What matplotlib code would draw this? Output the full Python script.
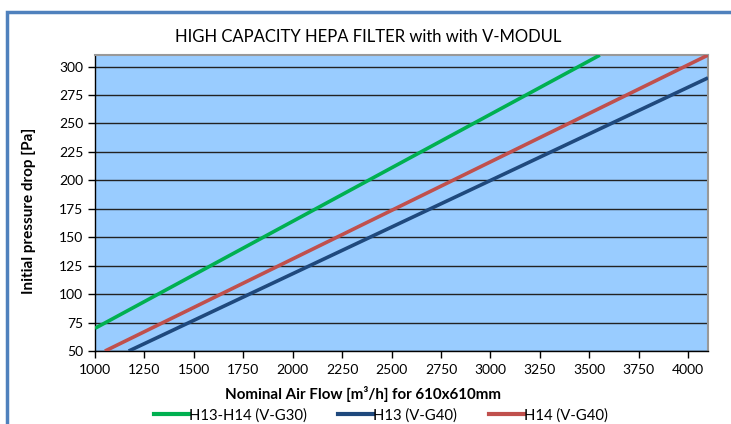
import matplotlib
matplotlib.use("Agg")
import matplotlib.pyplot as plt
from matplotlib.patches import Rectangle
from matplotlib.lines import Line2D

plt.rcParams['font.family'] = ['Lato', 'DejaVu Sans']

# Data
flow_g30 = [1000, 3553]
dp_g30 = [70, 310]
flow_h13 = [1170, 4100]
dp_h13 = [50, 290]
flow_h14 = [1050, 4100]
dp_h14 = [50, 310]
series_names = ["H13-H14 (V-G30)", "H13 (V-G40)", "H14 (V-G40)"]
colors = ["#00B050", "#1F497D", "#C0504D"]
xticks = list(range(1000, 4001, 250))
yticks = list(range(50, 301, 25))

fig = plt.figure(figsize=(7.31, 4.24), dpi=100)
ax = fig.add_axes([0.130, 0.172, 0.8385, 0.698])
ax.set_facecolor("#99CCFF")

for y in yticks:
    ax.axhline(y, color="#222222", lw=1.0, zorder=1)

ax.plot(flow_g30, dp_g30, color=colors[0], lw=2.6, zorder=3, solid_capstyle='butt')
ax.plot(flow_h13, dp_h13, color=colors[1], lw=2.6, zorder=3, solid_capstyle='butt')
ax.plot(flow_h14, dp_h14, color=colors[2], lw=2.6, zorder=3, solid_capstyle='butt')

ax.set_xlim(1000, 4100)
ax.set_ylim(50, 310)
ax.set_xticks(xticks)
ax.set_yticks(yticks)
ax.tick_params(axis='both', direction='out', length=5, width=1, labelsize=10, colors='black')
ax.tick_params(axis='x', pad=4)

for s in ['top', 'right']:
    ax.spines[s].set_color('#999999')
    ax.spines[s].set_linewidth(1.5)
for s in ['left', 'bottom']:
    ax.spines[s].set_color('black')
    ax.spines[s].set_linewidth(1.0)

fig.text(0.504, 0.913, "HIGH CAPACITY HEPA FILTER with with V-MODUL",
         ha='center', va='center', fontsize=12)
fig.text(0.497, 0.071, "Nominal Air Flow [m³/h] for 610x610mm",
         ha='center', va='center', fontsize=10.9, fontweight='bold')
fig.text(0.040, 0.502, "Initial pressure drop [Pa]", rotation=90,
         ha='center', va='center', fontsize=11, fontweight='bold')

handles = [Line2D([0], [0], color=c, lw=3) for c in colors]
fig.legend(handles, series_names, loc='center', bbox_to_anchor=(0.521, 0.021),
           ncol=3, frameon=False, fontsize=10.7, handlelength=2.35,
           handletextpad=0.0, columnspacing=2.15, borderpad=0, borderaxespad=0)

fig.patches.append(Rectangle((0.009, -0.1), 1.1, 1.072, transform=fig.transFigure,
                             fill=False, edgecolor="#4F81BD", lw=2.5))

fig.savefig("out.png", dpi=100)
